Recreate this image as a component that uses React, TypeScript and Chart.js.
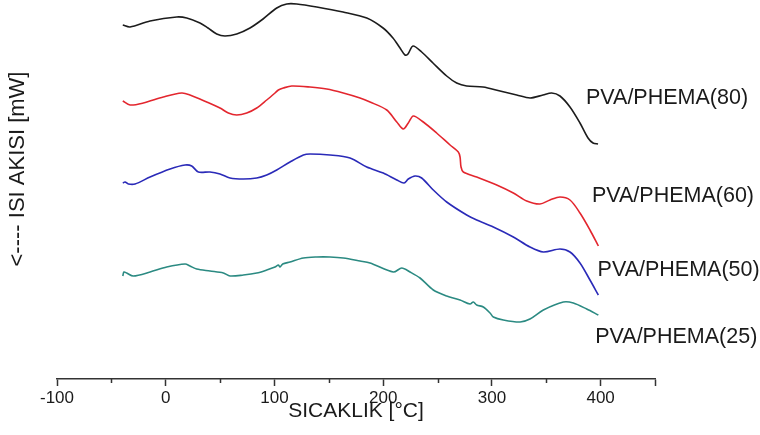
import React, { useEffect, useRef } from 'react';
import { Chart, registerables } from 'chart.js';

Chart.register(...registerables);

// Temperature (°C) and heat-flow (arbitrary mW units, stacked offsets) per sample
const tempPVA80 = [-39.5, -32.8, -14.4, 10.1, 19.3, 31.5, 38.9, 46.9, 54.5, 65.3, 77.5, 89.5, 102.1, 111.3, 120.5, 138.9, 163.1, 184.9, 199.9, 209.0, 215.5, 220.1, 222.8, 227.4, 235.4, 245.8, 258.4, 267.6, 276.8, 291.8, 307.5, 322.8, 335.1, 347.0, 355.0, 362.6, 371.8, 381.0, 388.4, 393.0, 397.6];
const flowPVA80 = [35.4, 35.2, 35.8, 36.2, 36.1, 35.6, 35.1, 34.5, 34.3, 34.5, 35.1, 36.0, 37.1, 37.5, 37.5, 37.2, 36.7, 36.1, 35.1, 34.1, 33.1, 32.4, 32.5, 33.3, 32.7, 31.6, 30.3, 29.6, 29.3, 29.2, 28.8, 28.4, 28.1, 28.4, 28.6, 28.3, 27.2, 25.6, 24.1, 23.6, 23.5];

const tempPVA60 = [-39.5, -32.8, -20.6, -2.2, 14.7, 22.3, 37.7, 49.9, 57.6, 65.3, 74.5, 83.7, 92.9, 100.5, 103.6, 108.2, 115.9, 132.7, 148.1, 163.3, 178.7, 187.9, 203.3, 212.5, 218.5, 223.1, 227.7, 236.9, 249.2, 261.5, 269.1, 270.7, 271.6, 273.7, 286.0, 304.4, 319.7, 332.0, 344.2, 353.4, 362.6, 371.8, 381.0, 390.2, 397.9];
const flowPVA60 = [27.8, 27.4, 27.6, 28.2, 28.6, 28.4, 27.7, 27.1, 26.6, 26.4, 26.6, 27.1, 27.9, 28.6, 28.9, 29.1, 29.3, 29.2, 29.0, 28.6, 28.1, 27.7, 26.9, 25.7, 25.0, 25.6, 26.3, 25.7, 24.6, 23.4, 22.7, 22.2, 21.2, 20.7, 20.2, 19.4, 18.6, 17.8, 17.5, 17.9, 18.2, 17.9, 16.6, 14.9, 13.3];

const tempPVA50 = [-39.5, -37.4, -34.4, -28.2, -14.4, 4.0, 17.8, 23.9, 30.0, 40.7, 49.9, 59.1, 71.4, 83.7, 92.9, 102.1, 114.3, 126.6, 132.7, 151.1, 169.5, 184.9, 200.1, 212.5, 219.2, 223.1, 229.3, 235.4, 246.1, 258.4, 276.8, 286.0, 301.3, 319.7, 335.0, 347.3, 362.6, 371.8, 381.0, 390.2, 397.9];
const flowPVA50 = [19.6, 19.7, 19.5, 19.5, 20.2, 21.0, 21.4, 21.3, 20.7, 20.7, 20.5, 20.1, 20.0, 20.1, 20.4, 20.9, 21.7, 22.4, 22.5, 22.4, 22.1, 21.2, 20.6, 19.9, 19.6, 20.0, 20.3, 20.1, 18.9, 17.7, 16.4, 15.9, 15.2, 14.2, 13.2, 12.7, 13.0, 12.7, 11.6, 9.9, 8.4];

const tempPVA25 = [-39.5, -38.4, -35.9, -29.8, -14.4, 0.9, 17.8, 22.3, 28.5, 40.7, 53.0, 59.1, 71.4, 83.7, 92.9, 100.5, 103.6, 105.1, 107.6, 114.3, 126.6, 138.9, 151.1, 163.3, 178.7, 187.9, 209.3, 217.1, 224.7, 233.9, 246.1, 258.4, 270.7, 279.9, 282.9, 286.0, 292.1, 298.3, 301.3, 310.5, 325.9, 335.0, 347.3, 365.7, 374.9, 387.2, 397.9];
const flowPVA25 = [10.3, 10.7, 10.6, 10.3, 10.7, 11.2, 11.5, 11.3, 11.0, 10.8, 10.6, 10.3, 10.4, 10.6, 10.9, 11.2, 11.4, 11.2, 11.5, 11.7, 12.1, 12.2, 12.2, 12.1, 11.8, 11.6, 10.7, 11.1, 10.7, 10.1, 8.9, 8.3, 7.9, 7.5, 7.7, 7.4, 7.2, 6.6, 6.2, 5.9, 5.7, 6.0, 6.9, 7.7, 7.6, 7.0, 6.4];

const seriesNames = ['PVA/PHEMA(80)', 'PVA/PHEMA(60)', 'PVA/PHEMA(50)', 'PVA/PHEMA(25)'];
// label anchor (temperature, heat-flow) for each series name
const labelTemps = [386.5, 392.0, 397.2, 395.0];
const labelFlows = [28.1, 18.3, 10.9, 4.2];
const xLabeledTicks = [-100, 0, 100, 200, 300, 400];
const xMajorTicks = [-100, 0, 100, 200, 300, 400, 450];

const xTitle = 'SICAKLIK [°C]';
const yTitle = '<---- ISI AKISI [mW]';

const FONT = '"Liberation Sans", Arial, sans-serif';

export default function App() {
  const ref = useRef<HTMLCanvasElement>(null);

  useEffect(() => {
    document.body.style.margin = '0';
    const pts = (xs: number[], ys: number[]) => xs.map((x, i) => ({ x, y: ys[i] }));
    const colors = ['#1c1c1c', '#e3262e', '#2a2ab8', '#2b8a82'];
    const temps = [tempPVA80, tempPVA60, tempPVA50, tempPVA25];
    const flows = [flowPVA80, flowPVA60, flowPVA50, flowPVA25];

    const textPlugin = {
      id: 'textPlugin',
      afterDraw(chart: any) {
        const { ctx, scales } = chart;
        const xs = scales.x;
        const ys = scales.y;
        ctx.save();
        // minor ticks
        ctx.strokeStyle = '#333';
        ctx.lineWidth = 1.5;
        for (let v = -50; v < 450; v += 100) {
          const px = Math.round(xs.getPixelForValue(v)) + 0.5;
          ctx.beginPath();
          ctx.moveTo(px, xs.top);
          ctx.lineTo(px, xs.top + 4);
          ctx.stroke();
        }
        // series labels
        ctx.fillStyle = '#1a1a1a';
        ctx.font = `21.5px ${FONT}`;
        ctx.textAlign = 'left';
        ctx.textBaseline = 'middle';
        seriesNames.forEach((name, i) => {
          ctx.fillText(name, xs.getPixelForValue(labelTemps[i]), ys.getPixelForValue(labelFlows[i]));
        });
        // y title
        ctx.font = `22px ${FONT}`;
        ctx.translate(18, 169);
        ctx.rotate(-Math.PI / 2);
        ctx.textAlign = 'center';
        ctx.fillText(yTitle, 0, 0);
        ctx.restore();
      },
    };

    const chart = new Chart(ref.current as HTMLCanvasElement, {
      type: 'line',
      data: {
        datasets: seriesNames.map((name, i) => ({
          label: name,
          data: pts(temps[i], flows[i]),
          borderColor: colors[i],
          backgroundColor: colors[i],
          borderWidth: 1.6,
          pointRadius: 0,
          tension: 0.3,
          fill: false,
        })),
      },
      options: {
        animation: false,
        responsive: false,
        layout: { padding: { left: 57, right: 105, top: 0, bottom: 0 } },
        plugins: { legend: { display: false }, tooltip: { enabled: false } },
        scales: {
          x: {
            type: 'linear',
            min: -100,
            max: 450,
            ticks: {
              stepSize: 50,
              autoSkip: false,
              maxRotation: 0,
              padding: 2,
              color: '#1a1a1a',
              font: { family: FONT, size: 17 },
              callback: (v: any) => (xLabeledTicks.includes(Number(v)) ? String(v) : ''),
            },
            grid: {
              drawOnChartArea: false,
              tickLength: 7,
              tickWidth: 1.5,
              tickColor: (c: any) => (c.tick && xMajorTicks.includes(c.tick.value) ? '#333' : 'rgba(0,0,0,0)'),
            },
            border: { color: '#333', width: 1.5 },
            title: {
              display: true,
              text: xTitle,
              color: '#1a1a1a',
              font: { family: FONT, size: 21 },
              padding: { top: 0, bottom: 11 },
            },
            afterFit: (s: any) => {
              s.height = 56;
            },
          },
          y: { type: 'linear', display: false, min: 0, max: 37.9 },
        },
      },
      plugins: [textPlugin],
    });
    return () => chart.destroy();
  }, []);

  return (
    <div style={{ position: 'absolute', left: 0, top: 0, width: 760, height: 435, background: '#fff' }}>
      <canvas ref={ref} width={760} height={435} style={{ display: 'block' }} />
    </div>
  );
}
